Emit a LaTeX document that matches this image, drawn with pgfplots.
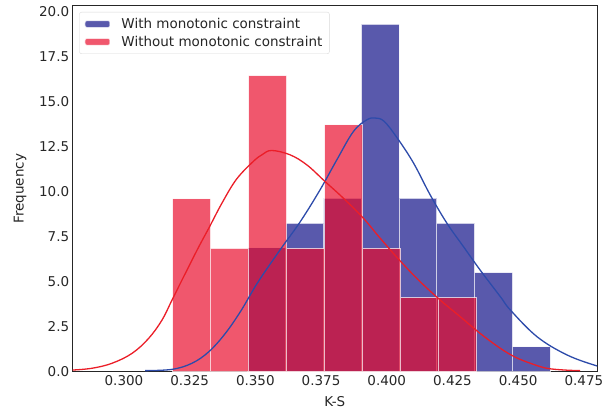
\documentclass[border=0pt]{standalone}
\usepackage{fontspec}
\setmainfont{DejaVu Sans}
\usepackage{pgfplots}
\pgfplotsset{compat=1.18}
\definecolor{blueH}{RGB}{0,0,128}
\definecolor{redH}{RGB}{233,8,40}
\definecolor{blueL}{RGB}{45,75,170}
\definecolor{redL}{RGB}{235,30,40}
\definecolor{txt}{RGB}{38,38,38}
\begin{document}
\begin{tikzpicture}
\begin{axis}[
  scale only axis, width=524.3pt, height=365.7pt,
  xmin=0.2805, xmax=0.4800, ymin=0, ymax=20.3,
  xtick={0.300,0.325,0.350,0.375,0.400,0.425,0.450,0.475},
  ytick={0,2.5,5,7.5,10,12.5,15,17.5,20},
  xticklabel style={/pgf/number format/.cd, fixed, fixed zerofill, precision=3},
  yticklabel style={/pgf/number format/.cd, fixed, fixed zerofill, precision=1},
  /pgf/number format/assume math mode=true,
  tick label style={font=\fontsize{13.5}{16}\selectfont, color=txt},
  major tick length=0pt,
  axis line style={txt, line width=1pt},
  xlabel={K-S}, ylabel={Frequency},
  label style={font=\fontsize{13.5}{16}\selectfont, color=txt},
  xlabel style={at={(axis description cs:0.5,0)}, anchor=center, yshift=-30.3pt},
  ylabel style={at={(axis description cs:-0.1005,0.5)}, anchor=center},
  legend style={at={(axis description cs:0,1)}, anchor=north west, xshift=6.6pt, yshift=-6pt,
    draw=gray!30, rounded corners=2pt, fill=white, fill opacity=0.8, text opacity=1,
    font=\fontsize{13.5}{16}\selectfont, text=txt, row sep=2pt, inner xsep=5pt, inner ysep=4pt,
    /tikz/every odd column/.append style={column sep=9pt}},
  legend cell align=left,
  legend image code/.code={\fill[#1] (0pt,-3.5pt) rectangle (25pt,3.5pt);},
]
\coordinate (bl) at (rel axis cs:0,0);
\coordinate (tr) at (rel axis cs:1,1);
\addplot[ybar interval, fill=blueH, fill opacity=0.65, draw=white, draw opacity=0.7, line width=1pt]
coordinates {(0.3472,6.88) (0.36158,8.25) (0.37596,9.63) (0.39034,19.3) (0.40472,9.63) (0.4191,8.25) (0.43348,5.5) (0.44786,1.38) (0.46224,0)};
\addlegendentry{With monotonic constraint}
\addplot[ybar interval, fill=redH, fill opacity=0.68, draw=white, draw opacity=0.7, line width=1pt]
coordinates {(0.3185,9.59) (0.33296,6.85) (0.34742,16.44) (0.36188,6.85) (0.37634,13.70) (0.3908,6.85) (0.40526,4.11) (0.41972,4.11) (0.43418,0)};
\addlegendentry{Without monotonic constraint}
\addplot[blueL, line width=1.3pt, smooth, tension=0.6, forget plot] coordinates {
(0.3081,0.06) (0.3183,0.13) (0.3259,0.47) (0.3323,1.11) (0.3386,2.13) (0.3446,3.4) (0.3509,4.95) (0.3594,6.76) (0.3671,8.33) (0.3746,10.09) (0.3810,11.76) (0.3873,13.33) (0.3924,13.98) (0.3956,14.08) (0.3990,13.9) (0.4040,12.97) (0.4102,11.58) (0.4165,9.82) (0.4229,8.24) (0.4292,6.94) (0.4355,5.65) (0.4432,4.17) (0.4470,3.43) (0.4572,1.94) (0.4686,0.93) (0.4800,0.32) (0.4850,0.18)};
\addplot[redL, line width=1.3pt, smooth, tension=0.6, forget plot] coordinates {
(0.2802,0.09) (0.2878,0.19) (0.2955,0.47) (0.3031,1.02) (0.3094,1.85) (0.3145,2.87) (0.3183,3.98) (0.3234,5.47) (0.3285,6.94) (0.3323,7.97) (0.3373,9.36) (0.3428,10.68) (0.3492,11.67) (0.3526,12.05) (0.3562,12.28) (0.3632,12.04) (0.3696,11.48) (0.3765,10.56) (0.3835,9.63) (0.3911,8.52) (0.3975,7.41) (0.4051,6.15) (0.4127,5.0) (0.4203,3.98) (0.4279,3.06) (0.4355,2.13) (0.4432,1.3) (0.4490,0.8) (0.4550,0.45) (0.4609,0.19) (0.4680,0.09) (0.4736,0.06)};
\end{axis}
\pgfresetboundingbox
\path ([xshift=-72.7pt,yshift=-39.3pt]bl) rectangle ([xshift=11pt,yshift=6pt]tr);
\end{tikzpicture}
\end{document}
